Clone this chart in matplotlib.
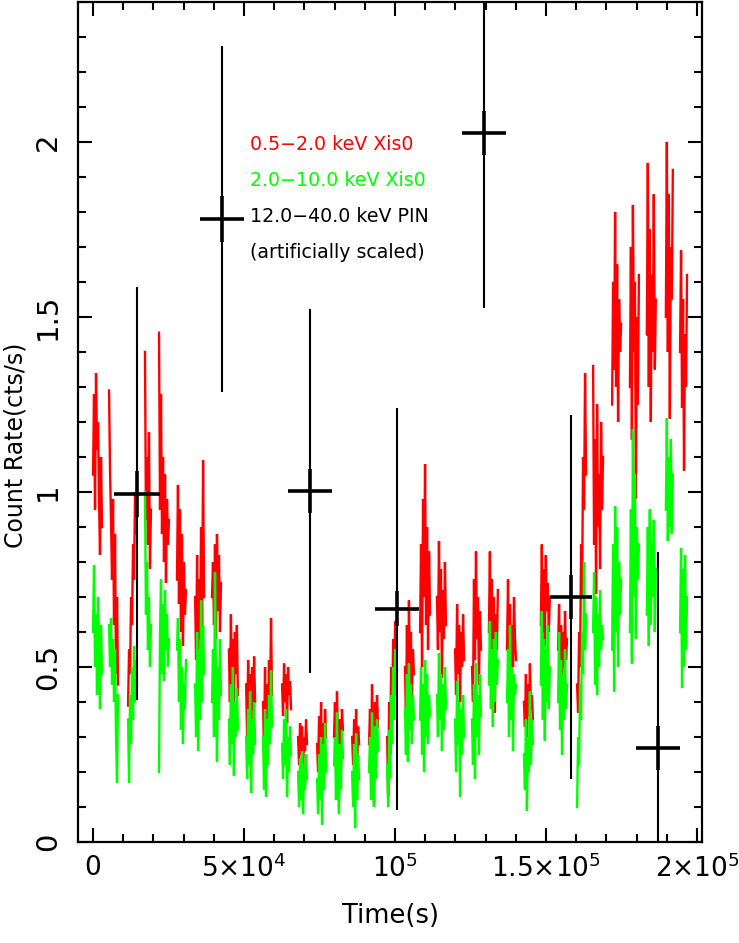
import numpy as np
import matplotlib
matplotlib.use("Agg")
import matplotlib.pyplot as plt
from matplotlib.ticker import MultipleLocator

# ---------------- data ----------------
bin_size = 330.0  # s, light-curve bin
seg_starts = [0, 5300, 11600, 17200, 21850, 27800, 33800, 39400, 45000, 50700,
              56300, 62600, 67900, 74200, 79800, 85800, 91400, 97400, 103300, 108300,
              113900, 119900, 125500, 131100, 137100, 142700, 148300, 154000, 160300, 165600,
              171900, 177800, 183400, 189700, 194400]

soft_rate = [  # 0.5-2.0 keV XIS0, per orbit segment
    [1.05, 1.28, 0.95, 1.34, 1.12, 1.20, 0.98, 0.82, 1.10, 0.90],
    [1.29, 1.06, 0.92, 0.75, 0.98, 0.62, 0.88, 0.48, 0.70, 0.45],
    [0.39, 0.55, 0.48, 0.70, 0.62, 0.85, 0.75, 1.00, 0.88, 0.95],
    [1.40, 0.92, 1.10, 0.85, 1.17, 0.78, 0.95],
    [1.455, 0.95, 1.28, 0.88, 1.10, 0.80, 1.05, 0.74, 0.98, 0.85, 0.92],
    [0.75, 1.02, 0.68, 0.95, 0.60, 0.88, 0.56, 0.80, 0.65, 0.72],
    [0.70, 0.52, 0.82, 0.46, 0.75, 0.58, 0.90, 0.62, 1.09, 0.70],
    [0.70, 0.80, 0.62, 0.85, 0.58, 0.88, 0.66, 0.82, 0.60, 0.74],
    [0.55, 0.40, 0.65, 0.45, 0.58, 0.37, 0.60, 0.48, 0.62, 0.42],
    [0.45, 0.30, 0.52, 0.35, 0.48, 0.27, 0.50, 0.38, 0.53, 0.40],
    [0.40, 0.25, 0.50, 0.21, 0.45, 0.32, 0.52, 0.38, 0.64, 0.42],
    [0.45, 0.36, 0.51, 0.40, 0.48, 0.34, 0.50, 0.42, 0.46, 0.38],
    [0.30, 0.22, 0.34, 0.25, 0.33, 0.21, 0.30, 0.26, 0.35, 0.28],
    [0.28, 0.20, 0.36, 0.25, 0.40, 0.18, 0.34, 0.26, 0.38, 0.30],
    [0.30, 0.40, 0.22, 0.43, 0.28, 0.16, 0.35, 0.25, 0.38, 0.32],
    [0.30, 0.22, 0.35, 0.25, 0.38, 0.21, 0.33, 0.28],
    [0.28, 0.38, 0.20, 0.45, 0.30, 0.11, 0.40, 0.25, 0.42, 0.33],
    [0.30, 0.13, 0.40, 0.25, 0.50, 0.35, 0.58, 0.42, 0.63, 0.55],
    [0.50, 0.35, 0.62, 0.29, 0.69, 0.45, 0.60, 0.40, 0.55, 0.48],
    [0.60, 0.85, 0.50, 0.98, 0.70, 1.08, 0.62, 0.90, 0.55, 0.83, 0.65],
    [0.70, 0.55, 0.86, 0.60, 0.78, 0.47, 0.72, 0.58, 0.80, 0.62],
    [0.55, 0.42, 0.68, 0.48, 0.62, 0.40, 0.60, 0.50, 0.65, 0.52],
    [0.50, 0.40, 0.75, 0.52, 0.83, 0.58, 0.70, 0.45, 0.66, 0.55],
    [0.60, 0.83, 0.50, 0.75, 0.40, 0.70, 0.37, 0.65, 0.55, 0.72],
    [0.55, 0.75, 0.48, 0.68, 0.41, 0.62, 0.50, 0.70, 0.58, 0.52],
    [0.40, 0.33, 0.48, 0.29, 0.45, 0.36, 0.51, 0.38, 0.42, 0.35],
    [0.62, 0.85, 0.60, 0.78, 0.56, 0.82, 0.66, 0.74, 0.60, 0.70],
    [0.55, 0.68, 0.48, 0.62, 0.44, 0.60, 0.50, 0.66, 0.52, 0.58],
    [0.45, 0.37, 0.60, 0.50, 0.85, 0.70, 1.10, 0.95, 1.34, 1.05],
    [1.36, 0.85, 1.15, 0.71, 1.25, 0.90, 1.05, 0.78, 1.20, 0.95, 1.10],
    [1.25, 1.60, 1.35, 1.80, 1.30, 1.65, 1.20, 1.55, 1.40, 1.48],
    [1.30, 1.70, 1.15, 1.82, 1.40, 1.60, 0.98, 1.50, 1.25, 1.62],
    [1.45, 1.94, 1.30, 1.75, 1.20, 1.62, 1.40, 1.85, 1.35, 1.55],
    [1.50, 2.00, 1.40, 1.85, 1.21, 1.70, 1.55, 1.92],
    [1.40, 1.69, 1.24, 1.55, 1.06, 1.45, 1.30, 1.62],
]

hard_rate = [  # 2.0-10.0 keV XIS0, per orbit segment
    [0.60, 0.79, 0.50, 0.65, 0.42, 0.70, 0.55, 0.38, 0.62, 0.48],
    [0.62, 0.50, 0.64, 0.45, 0.58, 0.40, 0.55, 0.30, 0.17, 0.42],
    [0.35, 0.17, 0.42, 0.28, 0.50, 0.35, 0.56, 0.40, 0.52, 0.45],
    [1.00, 0.65, 0.80, 0.55, 0.70, 0.50, 0.62],
    [0.20, 0.60, 0.75, 0.48, 0.68, 0.46, 0.72, 0.55, 0.65, 0.50, 0.58],
    [0.55, 0.64, 0.40, 0.58, 0.32, 0.50, 0.28, 0.45, 0.38, 0.52],
    [0.45, 0.30, 0.60, 0.26, 0.55, 0.35, 0.69, 0.40, 0.62, 0.48],
    [0.40, 0.55, 0.30, 0.77, 0.45, 0.23, 0.50, 0.35, 0.58, 0.42],
    [0.35, 0.22, 0.45, 0.28, 0.50, 0.19, 0.40, 0.30, 0.44, 0.32],
    [0.30, 0.18, 0.38, 0.22, 0.43, 0.14, 0.35, 0.25, 0.40, 0.28],
    [0.30, 0.15, 0.38, 0.13, 0.35, 0.22, 0.42, 0.28, 0.49, 0.33],
    [0.28, 0.18, 0.35, 0.22, 0.38, 0.13, 0.30, 0.20, 0.33, 0.25],
    [0.20, 0.10, 0.24, 0.12, 0.26, 0.08, 0.22, 0.15, 0.25, 0.18],
    [0.18, 0.08, 0.25, 0.12, 0.30, 0.05, 0.28, 0.15, 0.34, 0.20],
    [0.22, 0.30, 0.12, 0.37, 0.18, 0.08, 0.28, 0.15, 0.32, 0.24],
    [0.20, 0.10, 0.28, 0.04, 0.31, 0.12, 0.25, 0.18],
    [0.20, 0.30, 0.12, 0.37, 0.22, 0.10, 0.33, 0.18, 0.35, 0.26],
    [0.22, 0.10, 0.32, 0.18, 0.42, 0.28, 0.50, 0.35, 0.55, 0.45],
    [0.38, 0.25, 0.48, 0.23, 0.51, 0.32, 0.45, 0.28, 0.42, 0.35],
    [0.35, 0.50, 0.25, 0.45, 0.20, 0.52, 0.30, 0.48, 0.28, 0.42, 0.36],
    [0.42, 0.30, 0.54, 0.35, 0.48, 0.26, 0.45, 0.32, 0.50, 0.38],
    [0.35, 0.20, 0.46, 0.28, 0.40, 0.13, 0.38, 0.25, 0.42, 0.30],
    [0.35, 0.22, 0.45, 0.18, 0.51, 0.30, 0.42, 0.25, 0.48, 0.36],
    [0.45, 0.63, 0.38, 0.55, 0.33, 0.58, 0.40, 0.60, 0.45, 0.52],
    [0.40, 0.55, 0.30, 0.62, 0.35, 0.50, 0.26, 0.48, 0.42, 0.45],
    [0.25, 0.15, 0.35, 0.09, 0.30, 0.20, 0.43, 0.22, 0.35, 0.28],
    [0.45, 0.66, 0.35, 0.58, 0.29, 0.55, 0.40, 0.62, 0.38, 0.50],
    [0.40, 0.60, 0.32, 0.52, 0.25, 0.48, 0.35, 0.55, 0.38, 0.45],
    [0.10, 0.30, 0.22, 0.45, 0.35, 0.60, 0.48, 0.80, 0.55, 0.65],
    [0.60, 0.77, 0.45, 0.70, 0.42, 0.65, 0.50, 0.72, 0.55, 0.62, 0.58],
    [0.55, 0.85, 0.43, 0.96, 0.60, 0.90, 0.50, 0.80, 0.65, 0.75],
    [0.60, 0.95, 0.51, 1.18, 0.70, 1.05, 0.58, 0.90, 0.75, 0.85],
    [0.65, 0.90, 0.56, 0.95, 0.62, 0.85, 0.70, 0.92, 0.60, 0.78],
    [0.95, 1.21, 0.86, 1.10, 0.90, 1.15, 0.88, 1.05],
    [0.60, 0.84, 0.44, 0.78, 0.50, 0.82, 0.55, 0.70],
]

# 12-40 keV PIN (artificially scaled)
pin_time = [14570, 42715, 71850, 100560, 129470, 158280, 186990]
pin_halfwidth = [7700, 7300, 7300, 7300, 7300, 7000, 7300]
pin_rate = [0.995, 1.78, 1.003, 0.666, 2.025, 0.70, 0.27]
pin_err = [0.59, 0.495, 0.52, 0.575, 0.50, 0.52, 0.56]
pin_err_stat = [0.065, 0.065, 0.063, 0.05, 0.063, 0.063, 0.063]

legend_labels = ["0.5\u22122.0 keV Xis0", "2.0\u221210.0 keV Xis0",
                 "12.0\u221240.0 keV PIN", "(artificially scaled)"]
legend_colors = ["#ff0000", "#00ff00", "black", "black"]

xticks = [0, 5e4, 1e5, 1.5e5, 2e5]
xticklabels = ["0", r"5$\times$10$^4$", r"10$^5$", r"1.5$\times$10$^5$", r"2$\times$10$^5$"]
yticks = [0, 0.5, 1, 1.5, 2]
yticklabels = ["0", "0.5", "1", "1.5", "2"]

# ---------------- plot ----------------
plt.rcParams['font.family'] = ['DejaVu Sans']
plt.rcParams['mathtext.fontset'] = 'dejavusans'

fig = plt.figure(figsize=(7.39, 9.43), dpi=100)
ax = fig.add_axes([0.106, 0.107, 0.8435, 0.891])

for start, vals in zip(seg_starts, soft_rate):
    t = start + bin_size * np.arange(len(vals))
    ax.plot(t, vals, color="#ff0000", lw=1.7, solid_joinstyle='miter')
for start, vals in zip(seg_starts, hard_rate):
    t = start + bin_size * np.arange(len(vals))
    ax.plot(t, vals, color="#00ff00", lw=1.7, solid_joinstyle='miter')

ax.errorbar(pin_time, pin_rate, yerr=pin_err, fmt='none', ecolor='black',
            elinewidth=1.5, capsize=0, zorder=5)
ax.errorbar(pin_time, pin_rate, xerr=pin_halfwidth, yerr=pin_err_stat, fmt='none',
            ecolor='black', elinewidth=2.6, capsize=0, zorder=6)

ax.set_xlim(-4870, 201560)
ax.set_ylim(0, 2.4)

ax.set_xticks(xticks)
ax.set_xticklabels(xticklabels, fontsize=19)
ax.set_yticks(yticks)
ax.set_yticklabels(yticklabels, fontsize=21, rotation=90, va='center')
ax.xaxis.set_minor_locator(MultipleLocator(1e4))
ax.yaxis.set_minor_locator(MultipleLocator(0.1))
ax.tick_params(which='both', direction='in', top=True, right=True, width=1.5, colors='black')
ax.tick_params(which='major', length=10)
ax.tick_params(which='minor', length=5.5)
ax.tick_params(axis='x', which='major', pad=9)
ax.tick_params(axis='y', which='major', pad=12)
for s in ax.spines.values():
    s.set_linewidth(1.6)

ax.set_xlabel("Time(s)", fontsize=18.5, labelpad=14)
ax.set_ylabel("Count Rate(cts/s)", fontsize=17)
ax.yaxis.set_label_coords(-0.082, 0.4726)

ys = [0.830, 0.788, 0.744, 0.702]
for lab, col, yy in zip(legend_labels, legend_colors, ys):
    ax.text(0.2754, yy, lab, color=col, fontsize=13.7, transform=ax.transAxes,
            ha='left', va='center')

fig.savefig("out.png", dpi=100)
